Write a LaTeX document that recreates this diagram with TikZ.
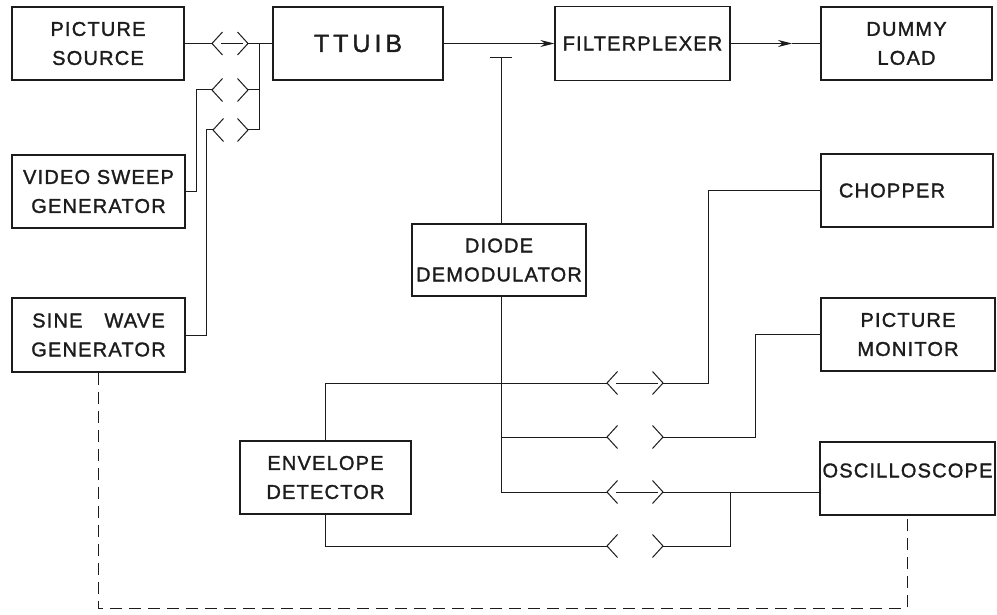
\documentclass[tikz,border=0pt]{standalone}
\usepackage{fontspec}
\setmainfont{Liberation Sans}[LetterSpace=6,FakeBold=1.4]
\usetikzlibrary{arrows.meta}
\definecolor{ink}{RGB}{28,28,28}
\newcommand\lblfont{\fontsize{20}{29}\selectfont}
\newcommand\bigfont{\fontsize{25}{30}\selectfont\addfontfeature{LetterSpace=16}}
\newcommand\plugset[3]{%
  \draw[plugln] (#1) ++(10.5,-11.5) -- (#1) -- ++(10.5,11.5);
  \draw[plugln] (#2) ++(-10.5,-11.5) -- (#2) -- ++(-10.5,11.5);
  \ifnum#3=1 \draw[midln] ([xshift=9pt]#1) -- ([xshift=-5pt]#2);\fi}
\begin{document}
\begin{tikzpicture}[x=1pt,y=-1pt,
  box/.style={draw=ink, line width=1.3pt, rectangle, inner sep=0pt, align=center, font=\lblfont, text=ink},
  wire/.style={draw=ink, line width=1pt},
  plugln/.style={draw=ink, line width=1pt},
  midln/.style={draw=ink, line width=0.7pt},
  arr/.style={wire, -{Stealth[length=14pt,width=7pt]}},
  dashln/.style={draw=ink, line width=1pt, dash pattern=on 12pt off 7pt}]
\useasboundingbox[fill=white] (0,0) rectangle (997,615);

% boxes
\node[box, minimum width=172pt, minimum height=73pt] (ps) at (98,43.5) {PICTURE\\SOURCE};
\node[box, minimum width=170pt, minimum height=73pt, font=\bigfont] (tt) at (358,43.5) {TTUIB};
\node[box, minimum width=175pt, minimum height=74pt] (fp) at (642.5,43.5) {FILTERPLEXER};
\node[box, minimum width=171pt, minimum height=73pt] (dl) at (906.5,43.5) {DUMMY\\LOAD};
\node[box, minimum width=173pt, minimum height=73pt] (vsg) at (98.5,191.5) {VIDEO SWEEP\\GENERATOR};
\node[box, minimum width=173pt, minimum height=74pt] (swg) at (98.5,335) {SINE\hspace{22pt}WAVE\\GENERATOR};
\node[box, minimum width=172pt, minimum height=73pt] (ch) at (907,190.5) {CHOPPER\hspace*{30pt}};
\node[box, minimum width=174pt, minimum height=72pt] (dd) at (499,260) {DIODE\\DEMODULATOR};
\node[box, minimum width=174pt, minimum height=73pt] (pm) at (908,334.5) {PICTURE\\MONITOR};
\node[box, minimum width=171pt, minimum height=73pt] (ed) at (325.5,477.5) {ENVELOPE\\DETECTOR};
\node[box, minimum width=175pt, minimum height=73pt] (osc) at (907.5,478.5) {\raisebox{8pt}[\height][\depth]{OSCILLOSCOPE}};

% top-left plug coordinates
\coordinate (pa1) at (212,43.5); \coordinate (pa2) at (248,43.5);
\coordinate (pb1) at (212,90);   \coordinate (pb2) at (248,90);
\coordinate (pc1) at (213,130);  \coordinate (pc2) at (248,130);
\coordinate (bt) at (259,43.5);  \coordinate (bb) at (259,130);
\coordinate (kb) at (196,90);    \coordinate (kc) at (206,130);

\draw[wire] (ps.east) -- (pa1);
\draw[wire] (pa2) -- (tt.west);
\draw[wire] (bt) -- (bb);
\draw[wire] (vsg.east) -| (kb) -- (pb1);
\draw[wire] (pb2) -- (bt |- pb2);
\draw[wire] (swg.east) -| (kc) -- (pc1);
\draw[wire] (pc2) -- (bb);
\plugset{pa1}{pa2}{1}
\plugset{pb1}{pb2}{0}
\plugset{pc1}{pc2}{0}

% main chain
\draw[arr] (tt.east) -- (fp.west);
\coordinate (am) at (792,43.5);
\draw[arr] (fp.east) -- (am);
\draw[wire] (am) -- (dl.west);

% T probe above diode demodulator
\coordinate (tb) at (501,58);
\draw[wire] (dd.north -| tb) -- (tb);
\draw[wire] ([xshift=-11pt]tb) -- ([xshift=11pt]tb);

% lower plugs
\coordinate (p1l) at (607,383); \coordinate (p1r) at (663,383);
\coordinate (p2l) at (607,437); \coordinate (p2r) at (663,437);
\coordinate (p3l) at (607,492); \coordinate (p3r) at (663,492);
\coordinate (p4l) at (607,546); \coordinate (p4r) at (663,546);
\coordinate (d3) at (501,492);
\coordinate (k1) at (708,383);
\coordinate (k2) at (755,437);
\coordinate (k4) at (730,546);

\draw[wire] (dd.south -| d3) -- (d3) -- (p3l);
\draw[wire] (d3 |- p2l) -- (p2l);
\draw[wire] (ed.north) |- (p1l);
\draw[wire] (ed.south) |- (p4l);
\draw[wire] (p1r) -- (k1) |- (ch.west);
\draw[wire] (p2r) -- (k2) |- (pm.west);
\draw[wire] (p3r) -- (p3r -| osc.west);
\draw[wire] (p4r) -- (k4) -- (k4 |- p3r);
\plugset{p1l}{p1r}{1}
\plugset{p2l}{p2r}{0}
\plugset{p3l}{p3r}{1}
\plugset{p4l}{p4r}{0}

% dashed sync line
\coordinate (dk) at (907.5,608);
\draw[dashln] (swg.south) |- (dk) -- (osc.south);
\end{tikzpicture}
\end{document}
